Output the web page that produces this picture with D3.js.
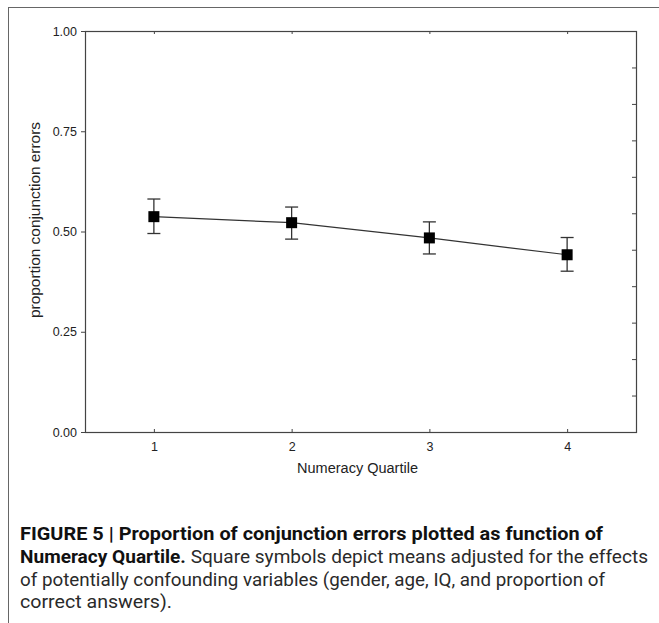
<!DOCTYPE html>
<html>
<head>
<meta charset="utf-8">
<script src="https://cdn.jsdelivr.net/npm/d3@7"></script>
<style>
  body { margin: 0; background: #fff; }
  svg { display: block; }
</style>
</head>
<body>
<svg id="chart" width="659" height="623"></svg>
<script>
const quartiles = [1, 2, 3, 4];
const means = [0.537, 0.522, 0.484, 0.442];
const upper = [0.581, 0.561, 0.524, 0.485];
const lower = [0.495, 0.481, 0.444, 0.401];
const yTicks = [0, 0.25, 0.5, 0.75, 1];
const rightTickCount = 11; // unlabeled minor ticks on right frame

const captionLines = [
  { parts: [{ t: "FIGURE 5 | Proportion of conjunction errors plotted as function of", b: true }], w: 583 },
  { parts: [{ t: "Numeracy Quartile.", b: true }, { t: " Square symbols depict means adjusted for the effects", b: false }], w: 628 },
  { parts: [{ t: "of potentially confounding variables (gender, age, IQ, and proportion of", b: false }], w: 585 },
  { parts: [{ t: "correct answers).", b: false }], w: 152 }
];

const svg = d3.select("#chart");
const margin = { top: 31, right: 23, bottom: 191, left: 85 };
const width = 659 - margin.left - margin.right;
const height = 623 - margin.top - margin.bottom;
const axisColor = "#444";
const labelFont = "'Liberation Sans', Arial, sans-serif";

// outer figure frame (top + left only, it is cropped)
svg.append("line").attr("x1", 8).attr("x2", 659).attr("y1", 7.5).attr("y2", 7.5)
  .attr("stroke", "#666").attr("stroke-width", 1);
svg.append("line").attr("x1", 8.5).attr("x2", 8.5).attr("y1", 7).attr("y2", 623)
  .attr("stroke", "#666").attr("stroke-width", 1);

const g = svg.append("g").attr("transform", `translate(${margin.left},${margin.top})`);

const x = d3.scaleLinear().domain([0.5, 4.5]).range([0, width]);
const y = d3.scaleLinear().domain([0, 1]).range([height, 0]);
const yRight = d3.scaleLinear().domain([0, rightTickCount]).range([height, 0]);

// left axis, labeled, ticks outward
g.append("g")
  .call(d3.axisLeft(y).tickValues(yTicks).tickFormat(d3.format(".2f")).tickSize(4).tickPadding(4))
  .call(a => a.select(".domain").remove())
  .call(a => a.selectAll("line").attr("stroke", axisColor))
  .call(a => a.selectAll("text").attr("fill", "#222").style("font", "12.5px " + labelFont));

// bottom axis, ticks inward
g.append("g")
  .attr("transform", `translate(0,${height})`)
  .call(d3.axisBottom(x).tickValues(quartiles).tickFormat(d3.format("d")).tickSize(-3).tickPadding(10))
  .call(a => a.select(".domain").remove())
  .call(a => a.selectAll("line").attr("stroke", axisColor))
  .call(a => a.selectAll("text").attr("fill", "#222").style("font", "12.5px " + labelFont));

// top axis, ticks inward
g.append("g")
  .call(d3.axisTop(x).tickValues(quartiles).tickFormat("").tickSize(-3))
  .call(a => a.select(".domain").remove())
  .call(a => a.selectAll("line").attr("stroke", axisColor));

// right axis, ticks inward
g.append("g")
  .attr("transform", `translate(${width},0)`)
  .call(d3.axisRight(yRight).ticks(rightTickCount).tickFormat("").tickSize(-4))
  .call(a => a.select(".domain").remove())
  .call(a => a.selectAll("line").attr("stroke", axisColor));

// plot frame
g.append("rect")
  .attr("x", 0.5).attr("y", 0.5)
  .attr("width", width).attr("height", height)
  .attr("fill", "none").attr("stroke", axisColor).attr("stroke-width", 1.2);

// axis titles
g.append("text")
  .attr("x", width / 2 - 3)
  .attr("y", height + 41)
  .attr("text-anchor", "middle")
  .attr("fill", "#222")
  .attr("textLength", 121)
  .attr("lengthAdjust", "spacingAndGlyphs")
  .style("font", "14px " + labelFont)
  .text("Numeracy Quartile");

g.append("text")
  .attr("transform", `translate(${40 - margin.left},${220 - margin.top}) rotate(-90)`)
  .attr("text-anchor", "middle")
  .attr("fill", "#222")
  .attr("textLength", 196)
  .attr("lengthAdjust", "spacingAndGlyphs")
  .style("font", "15px " + labelFont)
  .text("proportion conjunction errors");

// line through means
const line = d3.line().x((d, i) => x(quartiles[i])).y(d => y(d));
g.append("path")
  .datum(means)
  .attr("d", line)
  .attr("fill", "none")
  .attr("stroke", "#333")
  .attr("stroke-width", 1.2);

// error bars
const capHalf = 6.5;
const eb = g.selectAll(".err").data(quartiles).join("g").attr("class", "err")
  .attr("stroke", "#333").attr("stroke-width", 1.3);
eb.append("line")
  .attr("x1", d => x(d)).attr("x2", d => x(d))
  .attr("y1", (d, i) => y(upper[i])).attr("y2", (d, i) => y(lower[i]));
eb.append("line")
  .attr("x1", d => x(d) - capHalf).attr("x2", d => x(d) + capHalf)
  .attr("y1", (d, i) => y(upper[i])).attr("y2", (d, i) => y(upper[i]));
eb.append("line")
  .attr("x1", d => x(d) - capHalf).attr("x2", d => x(d) + capHalf)
  .attr("y1", (d, i) => y(lower[i])).attr("y2", (d, i) => y(lower[i]));

// square markers
const sq = 11;
g.selectAll(".pt").data(quartiles).join("rect").attr("class", "pt")
  .attr("x", d => x(d) - sq / 2)
  .attr("y", (d, i) => y(means[i]) - sq / 2)
  .attr("width", sq).attr("height", sq)
  .attr("fill", "#000");

// caption
const cap = svg.append("g").style("font-family", "Roboto, 'Liberation Sans', sans-serif").style("font-size", "17.5px");
captionLines.forEach((ln, i) => {
  const t = cap.append("text")
    .attr("x", 20)
    .attr("y", 540 + i * 22.8)
    .attr("textLength", ln.w)
    .attr("lengthAdjust", "spacingAndGlyphs");
  ln.parts.forEach(p => {
    t.append("tspan")
      .attr("font-weight", p.b ? 700 : 400)
      .attr("fill", p.b ? "#111" : "#2a2a2a")
      .text(p.t);
  });
});
</script>
</body>
</html>
